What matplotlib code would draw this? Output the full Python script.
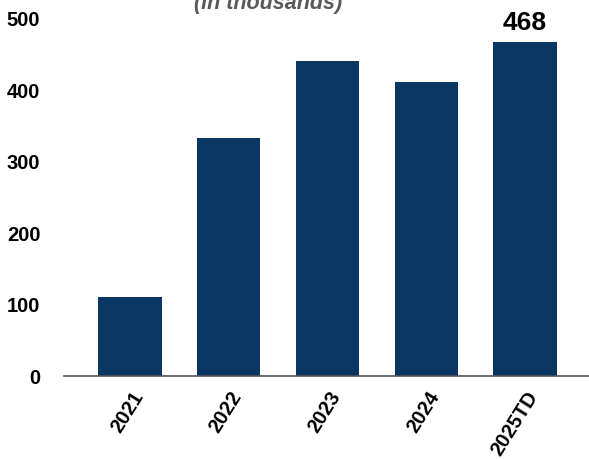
import matplotlib.pyplot as plt
import matplotlib.transforms as mtransforms

years = ["2021", "2022", "2023", "2024", "2025TD"]
values = [111, 334, 441, 412, 468]
yticks = [0, 100, 200, 300, 400, 500]

plt.rcParams['font.family'] = ['Liberation Sans', 'DejaVu Sans']

fig = plt.figure(figsize=(5.89, 4.59), dpi=100)
ax = fig.add_axes([64 / 589, 83 / 459, 527 / 589, 357 / 459])

x = range(len(years))
ax.bar(x, values, width=0.64, color="#0a3662", zorder=2)

# only the last bar gets its value printed
ax.text(len(years) - 1, values[-1] + 10, str(values[-1]), ha="center", va="bottom",
        fontsize=19, fontweight="bold", color="black", clip_on=False)

ax.set_xlim(-0.667, len(years) - 1 + 0.667)
ax.set_ylim(0, 500)
ax.set_yticks(yticks)
ax.set_yticklabels([str(t) for t in yticks], fontsize=14.5, fontweight="bold")
ax.set_xticks(list(x))
ax.set_xticklabels(years, fontsize=14.5, fontweight="bold", rotation=58,
                   ha="right", va="center", rotation_mode="anchor")
ax.tick_params(axis="both", length=0)
ax.tick_params(axis="y", pad=17)
ax.tick_params(axis="x", pad=12)

# nudge the rotated year labels a little to the right
shift = mtransforms.ScaledTranslation(9 / 100, 0, fig.dpi_scale_trans)
for lbl in ax.get_xticklabels():
    lbl.set_transform(lbl.get_transform() + shift)

for side in ["top", "right", "left"]:
    ax.spines[side].set_visible(False)
ax.spines["bottom"].set_color("#555555")
ax.spines["bottom"].set_linewidth(1.2)
ax.spines["bottom"].set_zorder(3)

fig.text(268 / 589, 1 - 9 / 459, "(in thousands)", ha="center", va="baseline",
         fontsize=15.5, fontweight="bold", style="italic", color="#595959")

fig.savefig("out.png", dpi=100)
